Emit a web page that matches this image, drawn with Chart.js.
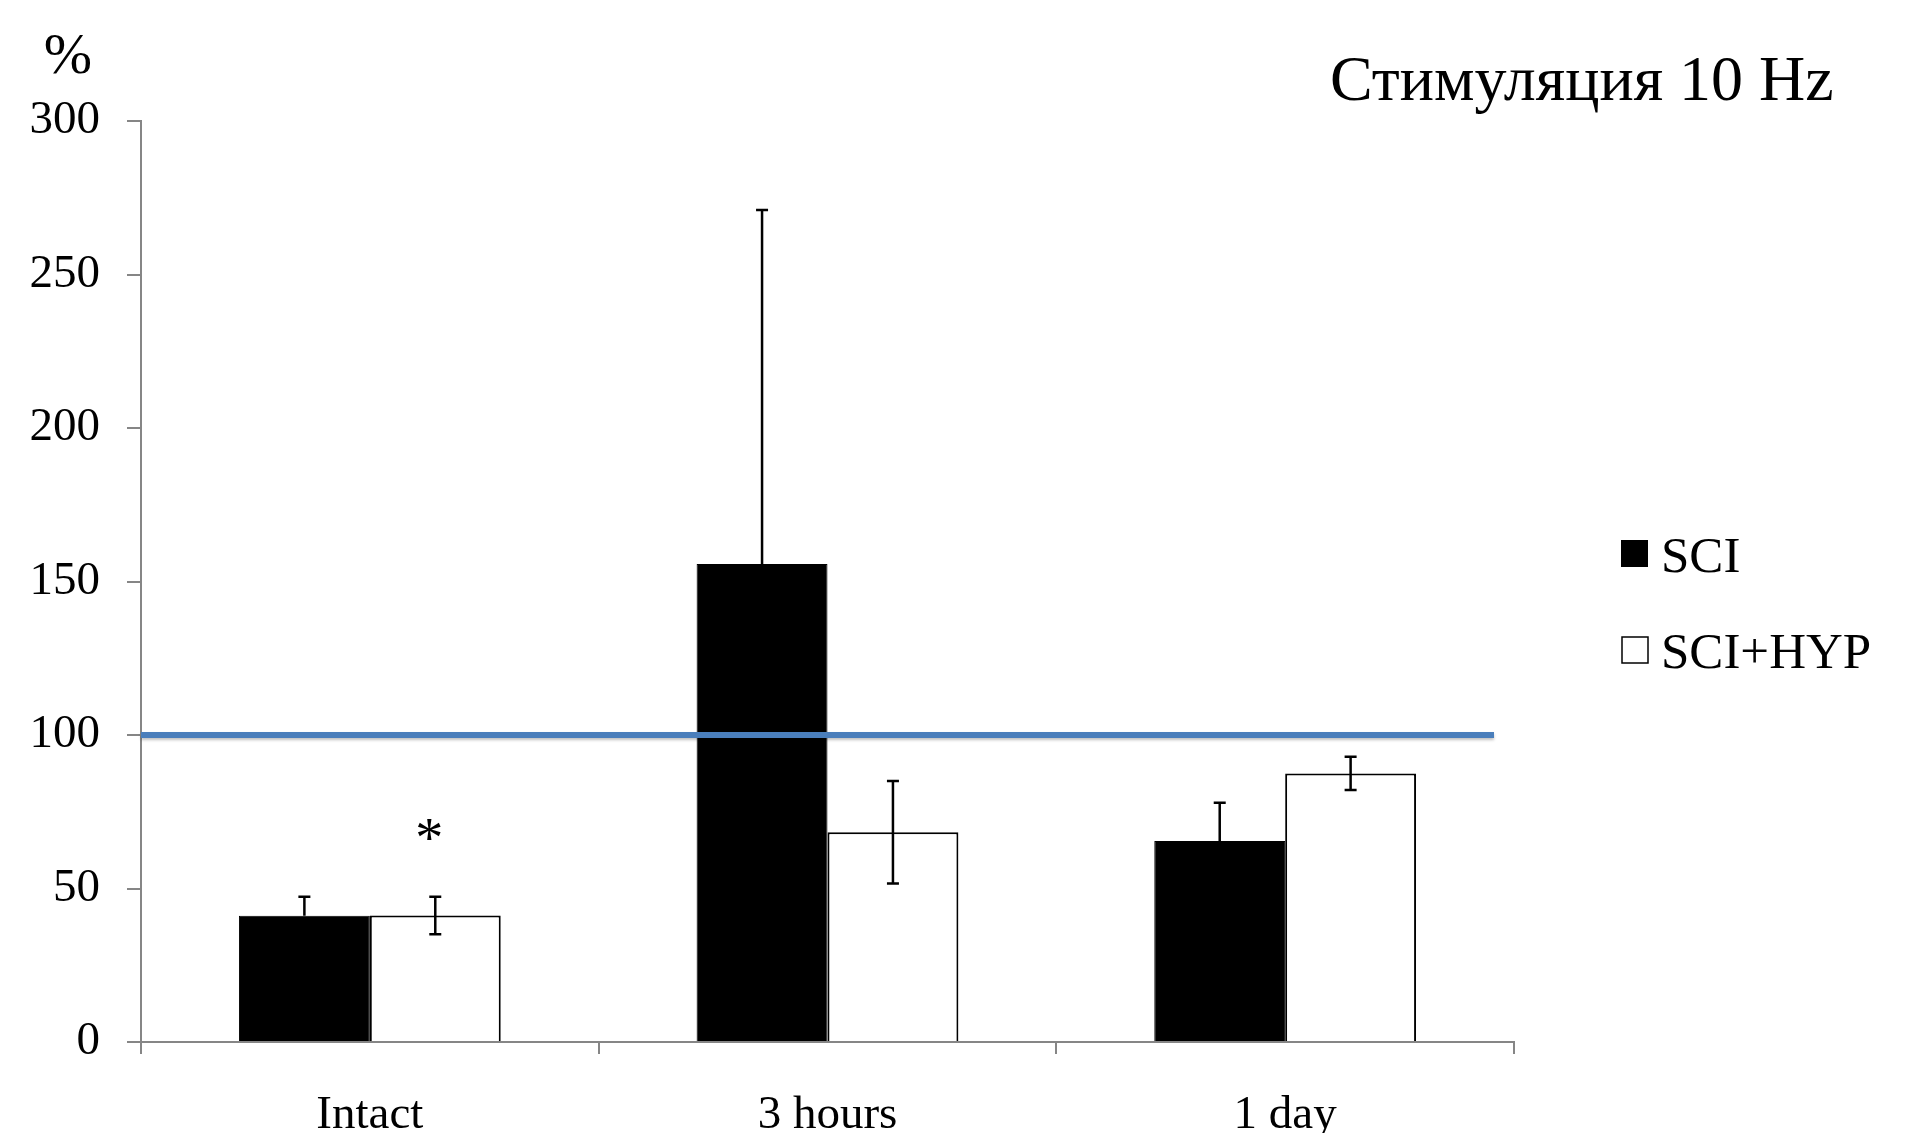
<!DOCTYPE html>
<html lang="ru">
<head>
    <meta charset="UTF-8">
    <title>Стимуляция 10 Hz</title>
    <script src="https://cdn.jsdelivr.net/npm/chart.js"></script>
    <style>
        html, body { margin: 0; padding: 0; background: #fff; overflow: hidden; }
        canvas { display: block; }
    </style>
</head>
<body>
    <canvas id="grafico" width="1928" height="1133"></canvas>
<script>
    // dados
    var categorias = ['Intact', '3 hours', '1 day'];
    var sci = [41.1, 155.7, 65.5];
    var sciErro = [6.2, 115.3, 12.4];
    var sciHyp = [41.2, 68.3, 87.5];
    var sciHypErro = [6.1, 16.7, 5.4];
    var yTicks = [0, 50, 100, 150, 200, 250, 300];
    var linhaRef = 100;
    var serieNomes = ['SCI', 'SCI+HYP'];

    var fonte = '"Liberation Serif", "Times New Roman", serif';
    var cinza = '#868686';

    // barras de erro, linha azul, titulo, legenda
    const extras = {
        id: 'extras',
        afterDatasetsDraw(chart) {
            const ctx = chart.ctx;
            const y = chart.scales.y;
            const area = chart.chartArea;
            const erros = [sciErro, sciHypErro];
            const dados = [sci, sciHyp];

            ctx.save();
            // linha de referencia
            ctx.strokeStyle = '#4a7ebb';
            ctx.lineWidth = 6;
            ctx.shadowColor = 'rgba(0,0,0,0.25)';
            ctx.shadowOffsetY = 2;
            ctx.shadowBlur = 3;
            ctx.beginPath();
            var yl = y.getPixelForValue(linhaRef);
            ctx.moveTo(area.left, yl);
            ctx.lineTo(area.right - 20, yl);
            ctx.stroke();
            ctx.shadowColor = 'transparent';

            // erro
            ctx.strokeStyle = '#000';
            ctx.lineWidth = 2.5;
            for (var d = 0; d < 2; d++) {
                var meta = chart.getDatasetMeta(d);
                for (var i = 0; i < meta.data.length; i++) {
                    var bar = meta.data[i];
                    var v = dados[d][i];
                    var e = erros[d][i];
                    var topo = y.getPixelForValue(v + e);
                    var base = d == 0 ? y.getPixelForValue(v) : y.getPixelForValue(v - e);
                    ctx.beginPath();
                    ctx.moveTo(bar.x, base);
                    ctx.lineTo(bar.x, topo);
                    ctx.moveTo(bar.x - 6, topo);
                    ctx.lineTo(bar.x + 6, topo);
                    if (d == 1) {
                        ctx.moveTo(bar.x - 6, base);
                        ctx.lineTo(bar.x + 6, base);
                    }
                    ctx.stroke();
                }
            }

            // asterisco
            var b = chart.getDatasetMeta(1).data[0];
            ctx.fillStyle = '#000';
            ctx.font = '56px ' + fonte;
            ctx.textAlign = 'center';
            ctx.textBaseline = 'middle';
            ctx.fillText('*', b.x - 6, y.getPixelForValue(sciHyp[0] + sciHypErro[0]) - 54);

            // %
            ctx.font = '58px ' + fonte;
            ctx.fillText('%', 68, 58);

            // titulo
            ctx.textAlign = 'left';
            ctx.textBaseline = 'alphabetic';
            ctx.font = '64px ' + fonte;
            ctx.fillText('Стимуляция 10 Hz', 1330, 100);

            // legenda
            ctx.font = '51px ' + fonte;
            ctx.fillRect(1621, 540, 27, 27);
            ctx.fillText(serieNomes[0], 1661, 572);
            ctx.lineWidth = 1.5;
            ctx.strokeRect(1622, 637, 26, 26);
            ctx.fillText(serieNomes[1], 1661, 668);
            ctx.restore();
        }
    };

    const config = {
        type: 'bar',
        data: {
            labels: categorias,
            datasets: [{
                label: serieNomes[0],
                data: sci,
                backgroundColor: '#000',
                borderColor: '#000',
                borderWidth: 1
            }, {
                label: serieNomes[1],
                data: sciHyp,
                backgroundColor: '#fff',
                borderColor: '#000',
                borderWidth: 2
            }]
        },
        options: {
            responsive: false,
            animation: false,
            layout: { padding: { left: 0, top: 121, right: 414, bottom: 0 } },
            plugins: {
                legend: { display: false },
                tooltip: { enabled: false }
            },
            datasets: {
                bar: { categoryPercentage: 0.572, barPercentage: 1 }
            },
            scales: {
                x: {
                    grid: { drawOnChartArea: false, drawTicks: true, tickLength: 12, color: cinza, lineWidth: 2 },
                    border: { color: cinza, width: 2 },
                    ticks: { color: '#000', font: { family: fonte, size: 47 }, padding: 33 },
                    afterFit: function (s) { s.height = 91; }
                },
                y: {
                    min: 0,
                    max: 300,
                    grid: { drawOnChartArea: false, drawTicks: true, tickLength: 14, color: cinza, lineWidth: 2 },
                    border: { color: cinza, width: 2 },
                    afterBuildTicks: function (s) { s.ticks = yTicks.map(v => ({ value: v })); },
                    ticks: { color: '#000', font: { family: fonte, size: 47 }, padding: 27 },
                    afterFit: function (s) { s.width = 141; }
                }
            }
        },
        plugins: [extras]
    };

    let grafico = new Chart(document.getElementById('grafico'), config);
</script>
</body>
</html>
